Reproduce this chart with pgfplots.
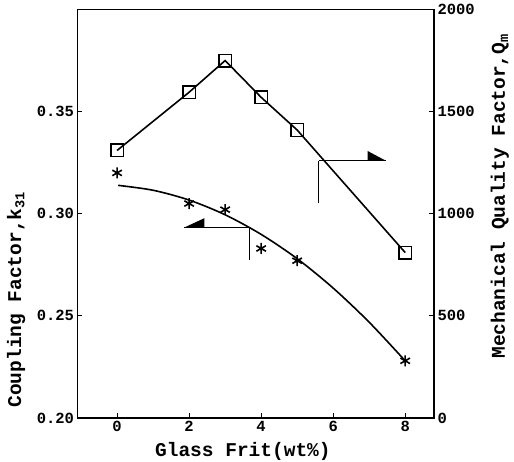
\documentclass[border=0pt]{standalone}
\usepackage{fontspec}
\setmainfont{Liberation Mono}
\setmonofont{Liberation Mono}
\usepackage{pgfplots}
\pgfplotsset{compat=1.18}
\begin{document}
\begin{tikzpicture}
\pgfplotsset{
  common/.style={
    scale only axis, width=356.5pt, height=408.5pt,
    at={(0,0)}, anchor=south west,
    xmin=-1.1, xmax=8.8,
    tick align=inside, major tick length=5pt,
    every tick/.style={line width=1.2pt, black},
    axis line style={line width=1.5pt},
    ticklabel style={font=\bfseries\fontsize{15.5}{15.5}\selectfont},
    /pgf/number format/assume math mode=true,
    label style={font=\bfseries\fontsize{19.5}{19.5}\selectfont},
  }
}
\begin{axis}[common,
  ymin=0.2, ymax=0.4,
  xtick={0,2,4,6,8}, xtick pos=bottom,
  ytick={0.20,0.25,0.30,0.35}, ytick pos=left,
  yticklabel style={/pgf/number format/.cd, fixed, fixed zerofill, precision=2},
  xlabel={Glass Frit(wt\%)},
  ylabel={Coupling Factor,k\textsubscript{31}},
  xlabel style={at={(axis description cs:0.464,-0.083)}, anchor=center},
  ylabel style={at={(axis description cs:-0.172,0.29)}, anchor=center},
]
\addplot[only marks, mark=asterisk, mark size=5.5pt, mark options={line width=1.6pt}]
  coordinates {(0,0.320)(2,0.305)(3,0.302)(4,0.283)(5,0.277)(8,0.228)};
\addplot[smooth, line width=1.6pt]
  coordinates {(0.03,0.3139)(1,0.3115)(2,0.3067)(3,0.2995)(4,0.2899)(5,0.2780)(6,0.2636)(7,0.2469)(8,0.2280)};
% left-pointing arrow (k31 curve -> left axis)
\draw[line width=1.1pt] (axis cs:3.67,0.2772) -- (axis cs:3.67,0.2933);
\draw[line width=1.6pt] (axis cs:3.67,0.2933) -- (axis cs:1.87,0.2933);
\fill (axis cs:1.87,0.2933) -- (axis cs:2.42,0.2978) -- (axis cs:2.42,0.2933) -- cycle;
% right-pointing arrow (Qm curve -> right axis)
\draw[line width=1.1pt] (axis cs:5.60,0.3054) -- (axis cs:5.60,0.326);
\draw[line width=1.6pt] (axis cs:5.60,0.326) -- (axis cs:7.46,0.326);
\fill (axis cs:7.46,0.326) -- (axis cs:6.96,0.3307) -- (axis cs:6.96,0.326) -- cycle;
\end{axis}
\begin{axis}[common,
  ymin=0, ymax=2000,
  hide x axis,
  ytick={0,500,1000,1500,2000}, ytick pos=right, yticklabel pos=right,
  yticklabel style={/pgf/number format/1000 sep={}},
  ylabel={Mechanical Quality Factor,Q\textsubscript{m}},
  ylabel style={at={(axis description cs:1.185,0.543)}, anchor=center},
]
\addplot[line width=1.6pt, mark=square, mark size=6.3pt, mark options={line width=1.5pt}]
  coordinates {(0,1310)(2,1595)(3,1750)(4,1570)(5,1410)(8,810)};
\end{axis}
\pgfresetboundingbox
\useasboundingbox (-77.5pt,-43pt) rectangle (436.5pt,418pt);
\end{tikzpicture}
\end{document}
